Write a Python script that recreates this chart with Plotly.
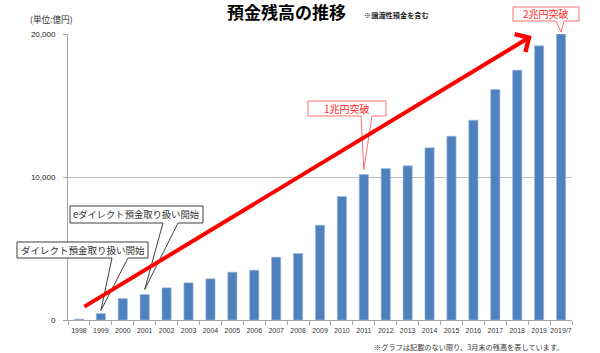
import plotly.graph_objects as go

# ---- data ----
categories = ["1998", "1999", "2000", "2001", "2002", "2003", "2004", "2005",
              "2006", "2007", "2008", "2009", "2010", "2011", "2012", "2013",
              "2014", "2015", "2016", "2017", "2018", "2019", "2019/7"]
balances = [60, 455, 1500, 1780, 2250, 2600, 2880, 3340, 3480, 4390, 4650,
            6630, 8640, 10170, 10590, 10780, 12040, 12850, 13970, 16120,
            17470, 19170, 20000]
y_ticks = [0, 10000, 20000]

title_text = "預金残高の推移"
note_text = "※譲渡性預金を含む"
unit_text = "(単位:億円)"
footer_text = "※グラフは記載のない限り、3月末の残高を表しています。"

callouts = [
    ("ダイレクト預金取り扱い開始", "1999"),
    ("eダイレクト預金取り扱い開始", "2001"),
    ("1兆円突破", "2011"),
    ("2兆円突破", "2019/7"),
]

# ---- layout geometry ----
W, H = 600, 353
L, R, T, B = 68, 28, 34, 33
PW, PH = W - L - R, H - T - B
YMAX = 20000
n = len(categories)


def px_x(px):
    return (px - L) / PW


def px_y(py):
    return (H - B - py) / PH


def cat_px(i):
    return L + (i + 0.5) * PW / n


def val_py(v):
    return H - B - v / YMAX * PH


fig = go.Figure()
fig.add_trace(go.Bar(
    x=list(range(n)), y=balances, width=0.42,
    marker=dict(color="#4F81BD", line=dict(color="#9DB9DE", width=0.6)),
    hoverinfo="x+y",
))

# callout styles: (box x0, y0, x1, y1, wedge base x0, x1, gap above bar, line color, text color, size)
styles = [
    (17, 242, 148, 258, 112, 128, 3, "#404040", "#333333", 9.5),
    (70, 206, 203, 223, 163, 178, 5, "#404040", "#333333", 9.3),
    (308, 101, 386, 116, 361, 372, 5, "#FF6F6F", "#FF2A2A", 10),
    (513, 7, 579, 21, 556, 564, 2, "#FF6F6F", "#FF2A2A", 10),
]

shapes = []
annotations = []
for (text, cat), st in zip(callouts, styles):
    x0, y0, x1, y1, b0, b1, gap, lc, tc, fs = st
    i = categories.index(cat)
    tx = cat_px(i)
    ty = val_py(balances[i]) - gap
    pts = [(x0, y0), (x1, y0), (x1, y1), (b1, y1), (tx, ty), (b0, y1), (x0, y1)]
    path = "M " + " L ".join(f"{px_x(a):.5f},{px_y(b):.5f}" for a, b in pts) + " Z"
    shapes.append(dict(type="path", xref="paper", yref="paper", path=path,
                       fillcolor="white", line=dict(color=lc, width=1), layer="above"))
    annotations.append(dict(xref="paper", yref="paper", x=px_x((x0 + x1) / 2),
                            y=px_y((y0 + y1) / 2), text=text, showarrow=False,
                            xanchor="center", yanchor="middle",
                            font=dict(family="Noto Sans CJK JP", size=fs, color=tc)))

# trend arrow
annotations.append(dict(xref="x", yref="y", axref="x", ayref="y",
                        x=20.66, y=19860, ax=0.18, ay=873, text="",
                        showarrow=True, arrowhead=4, arrowsize=1, arrowwidth=4,
                        arrowcolor="#FF0000", standoff=0, startstandoff=0))

# texts
annotations += [
    dict(xref="paper", yref="paper", x=px_x(286), y=px_y(11), text=f"<b>{title_text}</b>",
         showarrow=False, xanchor="center", yanchor="middle",
         font=dict(family="Noto Sans CJK JP", size=17, color="#000000")),
    dict(xref="paper", yref="paper", x=px_x(362), y=px_y(15), text=f"<b>{note_text}</b>",
         showarrow=False, xanchor="left", yanchor="middle",
         font=dict(family="Noto Sans CJK JP", size=7.2, color="#222222")),
    dict(xref="paper", yref="paper", x=px_x(28), y=px_y(19), text=unit_text,
         showarrow=False, xanchor="left", yanchor="middle",
         font=dict(family="Noto Sans CJK JP", size=8.6, color="#333333")),
    dict(xref="paper", yref="paper", x=px_x(566), y=px_y(347), text=footer_text,
         showarrow=False, xanchor="right", yanchor="middle",
         font=dict(family="Noto Sans CJK JP", size=7.2, color="#333333")),
]

fig.update_layout(
    width=W, height=H, margin=dict(l=L, r=R, t=T, b=B),
    paper_bgcolor="white", plot_bgcolor="white", showlegend=False,
    shapes=shapes, annotations=annotations,
    xaxis=dict(range=[-0.5, n - 0.5], tickvals=list(range(n)), ticktext=categories,
               ticks="", showgrid=False, zeroline=False, showline=True,
               linecolor="#A6A6A6", linewidth=1, ticklabelstandoff=4,
               tickfont=dict(family="Liberation Sans", size=7, color="#333333"),
               minor=dict(tickvals=[k - 0.5 for k in range(n + 1)], ticks="outside",
                          ticklen=4, tickcolor="#A6A6A6", showgrid=False)),
    yaxis=dict(range=[0, YMAX], tickvals=y_ticks, tickformat=",", showgrid=True,
               gridcolor="#BFBFBF", gridwidth=1, zeroline=False, showline=True,
               linecolor="#A6A6A6", ticks="outside", ticklen=4, tickcolor="#A6A6A6",
               ticklabelstandoff=6,
               tickfont=dict(family="Liberation Sans", size=8, color="#222222")),
)

fig.write_html("out.html")
